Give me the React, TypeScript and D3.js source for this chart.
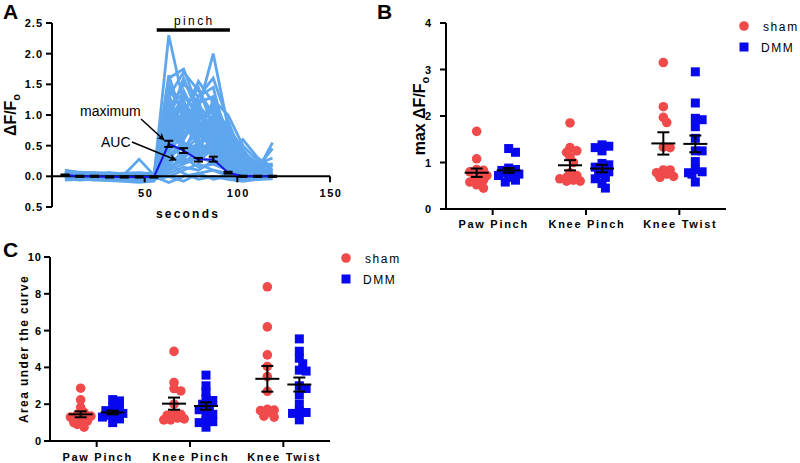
import React from "react";
import * as d3 from "d3";

const FONT = "'Liberation Sans', Arial, Helvetica, sans-serif";

// ---------- Panel A data ----------
const timePoints = [7, 15, 23, 31, 39, 47, 55, 63, 71, 79, 87, 95, 103, 111, 119];
const meanTrace = [0.02, 0.0, 0.0, -0.01, -0.01, -0.01, -0.01, 0.53, 0.42, 0.27, 0.28, 0.06, 0.0, 0.0, 0.0];
const semTrace = [0.01, 0.01, 0.01, 0.01, 0.01, 0.01, 0.01, 0.05, 0.04, 0.03, 0.04, 0.015, 0.01, 0.01, 0.01];
const pinchWindow = [56.5, 96];
const aYTicks = [-0.5, 0, 0.5, 1, 1.5, 2, 2.5];
const aYTickLabels = ["0.5", "0.0", "0.5", "1.0", "1.5", "2.0", "2.5"];
const aXTicks = [50, 100, 150];

const traces = [
  [0.08, 0.05, 0.03, 0.02, 0.0, 0.01, 0.0, 2.3, 1.2, 0.9, 0.7, 0.3, 0.1, 0.05, 0.0],
  [0.05, 0.03, 0.02, 0.0, -0.02, 0.0, -0.01, 1.6, 1.75, 1.1, 2.0, 0.8, 0.3, 0.1, 0.55],
  [0.02, 0.0, -0.02, -0.03, -0.05, -0.06, -0.05, 1.5, 1.0, 1.55, 1.2, 0.6, 0.2, 0.15, 0.45],
  [0.1, 0.06, 0.04, 0.02, 0.03, 0.28, 0.02, 1.3, 1.7, 1.4, 1.0, 0.75, 0.4, 0.2, 0.2],
  [-0.02, -0.03, -0.04, -0.05, -0.06, -0.08, -0.06, 1.1, 1.5, 1.3, 1.45, 0.5, 0.2, 0.1, 0.1],
  [0.0, 0.02, 0.0, -0.02, 0.0, 0.02, 0.0, 0.9, 1.6, 1.0, 0.8, 0.4, 0.1, 0.0, 0.05],
  [0.06, 0.04, 0.05, 0.03, 0.02, 0.04, 0.03, 1.0, 0.8, 1.3, 1.6, 0.9, 0.3, 0.05, 0.0],
  [-0.05, -0.04, -0.06, -0.07, -0.08, -0.1, -0.08, 0.8, 1.2, 0.7, 0.9, 0.6, 0.2, 0.0, -0.02],
  [0.03, 0.01, 0.0, 0.02, 0.01, 0.0, 0.01, 0.7, 1.4, 0.9, 0.5, 0.3, 0.05, 0.0, 0.0],
  [0.04, 0.02, 0.03, 0.01, 0.0, -0.02, -0.01, 1.2, 0.6, 1.1, 0.7, 0.2, 0.1, 0.0, 0.0],
  [0.01, -0.01, -0.02, 0.0, -0.03, -0.04, -0.03, 0.6, 0.9, 1.2, 1.3, 0.7, 0.25, 0.1, 0.05],
  [0.07, 0.05, 0.06, 0.04, 0.03, 0.05, 0.04, 0.5, 1.1, 0.6, 1.0, 0.45, 0.15, 0.05, 0.0],
  [-0.03, -0.05, -0.04, -0.06, -0.05, -0.07, -0.05, 0.4, 0.7, 0.8, 1.1, 0.55, 0.3, 0.15, 0.0],
  [0.0, 0.0, 0.01, 0.0, -0.01, 0.0, 0.0, 0.3, 0.5, 0.4, 0.6, 0.3, 0.1, 0.0, 0.0],
  [0.05, 0.03, 0.02, 0.0, 0.01, 0.0, -0.01, 0.2, 0.4, 0.9, 0.3, 0.1, 0.0, 0.0, 0.0],
  [0.02, 0.04, 0.03, 0.05, 0.02, 0.03, 0.02, 0.1, 0.2, 0.3, 0.5, 0.2, 0.05, 0.0, 0.0],
  [-0.01, -0.02, -0.03, -0.02, -0.04, -0.05, -0.04, 0.0, 0.1, 0.2, 0.1, 0.05, 0.0, -0.02, 0.0],
  [0.03, 0.02, 0.0, 0.01, 0.0, 0.01, 0.0, -0.1, 0.0, 0.05, 0.1, 0.0, -0.05, -0.03, 0.0],
  [0.09, 0.06, 0.05, 0.04, 0.05, 0.06, 0.03, 0.15, 0.3, 0.15, 0.2, 0.1, 0.0, 0.0, 0.0],
  [0.0, -0.03, -0.02, -0.04, -0.06, -0.05, -0.04, 0.6, 0.3, 0.5, 0.4, 0.15, 0.0, -0.02, 0.0],
  [0.04, 0.02, 0.01, 0.03, 0.02, 0.0, 0.0, 0.85, 0.5, 0.35, 0.6, 0.3, 0.1, 0.0, 0.0],
  [0.02, 0.0, 0.02, 0.01, 0.0, -0.01, 0.0, 1.05, 0.95, 0.6, 0.3, 0.2, 0.05, 0.0, 0.0],
  [-0.04, -0.02, -0.05, -0.03, -0.06, -0.04, -0.03, 0.45, 0.85, 0.65, 0.75, 0.35, 0.6, 0.3, 0.15],
  [0.06, 0.03, 0.02, 0.01, 0.03, 0.02, 0.01, 1.4, 1.1, 0.8, 0.55, 0.25, 0.1, 0.05, 0.0],
  [0.01, 0.0, -0.01, 0.0, 0.0, 0.01, 0.0, 0.25, 0.6, 1.0, 0.85, 0.45, 0.2, 0.0, 0.0],
  [0.03, 0.05, 0.04, 0.02, 0.01, 0.0, 0.0, 0.35, 0.2, 0.45, 0.95, 0.65, 0.35, 0.2, 0.1],
  [-0.02, 0.0, -0.01, -0.02, -0.03, -0.02, -0.02, 0.65, 1.25, 0.5, 0.35, 0.15, 0.05, 0.0, 0.0],
  [0.05, 0.04, 0.03, 0.02, 0.0, 0.02, 0.01, 0.75, 0.45, 0.75, 0.5, 0.25, 0.0, 0.0, 0.0],
  [0.0, 0.01, 0.0, -0.01, -0.02, -0.03, -0.02, 0.05, 0.15, 0.1, 0.25, 0.1, 0.0, 0.0, 0.0],
  [0.02, 0.0, 0.0, 0.01, 0.0, 0.0, 0.01, 0.55, 0.7, 0.85, 0.65, 0.35, 0.15, 0.0, 0.0],
  [0.07, 0.04, 0.03, 0.02, 0.01, 0.03, 0.02, 0.95, 0.75, 1.15, 0.9, 0.8, 0.45, 0.1, 0.2],
  [-0.06, -0.05, -0.04, -0.05, -0.07, -0.08, -0.06, 0.2, 0.05, -0.05, 0.0, -0.05, -0.08, -0.05, -0.04],
  [0.04, 0.05, 0.03, 0.04, 0.02, 0.03, 0.02, 1.65, 0.9, 0.7, 0.45, 0.2, 0.05, 0.0, 0.0],
  [0.01, 0.02, 0.0, 0.0, -0.01, 0.0, 0.0, 0.1, 0.35, 0.55, 0.75, 0.5, 0.25, 0.1, 0.0],
  [0.03, 0.01, 0.02, 0.0, 0.01, 0.0, 0.0, 1.15, 1.35, 0.95, 1.05, 0.7, 0.35, 0.15, 0.05],
  [-0.03, -0.04, -0.03, -0.04, -0.05, -0.06, -0.05, 0.0, -0.08, 0.05, -0.05, 0.0, -0.05, -0.03, 0.0],
  [0.05, 0.02, 0.04, 0.03, 0.04, 0.02, 0.03, 0.9, 1.3, 1.05, 0.55, 0.4, 0.2, 0.1, 0.0],
  [-0.01, 0.01, -0.02, -0.01, -0.02, -0.03, -0.03, 1.25, 0.65, 0.9, 1.15, 0.55, 0.3, 0.05, 0.05],
  [0.06, 0.07, 0.05, 0.06, 0.04, 0.05, 0.05, 0.7, 1.05, 1.45, 0.8, 0.45, 0.15, 0.05, 0.0],
  [0.0, -0.01, 0.01, 0.0, 0.0, -0.02, -0.01, 0.35, 0.55, 0.25, 0.45, 0.25, 0.1, 0.0, 0.0],
  [0.02, 0.03, 0.01, 0.02, 0.01, 0.02, 0.01, 1.0, 0.4, 0.65, 1.25, 1.0, 0.5, 0.25, 0.1],
  [-0.04, -0.06, -0.05, -0.04, -0.06, -0.07, -0.06, 0.15, 0.25, 0.35, 0.2, 0.1, -0.02, -0.05, -0.03],
  [0.03, 0.02, 0.03, 0.01, 0.02, 0.01, 0.0, 1.35, 0.55, 0.45, 0.85, 0.6, 0.25, 0.1, 0.0],
  [0.08, 0.06, 0.04, 0.05, 0.03, 0.04, 0.02, 0.5, 0.95, 0.55, 0.65, 0.25, 0.05, 0.2, 0.3],
  [0.01, 0.0, 0.0, -0.01, 0.0, -0.01, 0.0, 0.8, 0.6, 1.25, 0.4, 0.2, 0.1, 0.0, 0.0],
  [-0.02, -0.01, -0.03, -0.02, -0.01, -0.02, -0.02, 0.4, 1.0, 0.75, 1.0, 0.85, 0.3, 0.1, 0.0],
  [0.04, 0.03, 0.05, 0.03, 0.02, 0.03, 0.02, 0.6, 0.25, 0.3, 0.55, 0.15, 0.0, 0.0, 0.0],
  [0.02, 0.0, 0.01, 0.0, 0.01, 0.0, 0.01, 1.1, 0.85, 0.5, 0.7, 0.4, 0.15, 0.0, 0.0],
];

// ---------- Panels B & C data ----------
const categories = ["Paw Pinch", "Knee Pinch", "Knee Twist"];
const groupNames = ["sham", "DMM"];

const maxSham = [
  [1.67, 1.08, 0.85, 0.83, 0.8, 0.78, 0.72, 0.66, 0.62, 0.58, 0.52, 0.45],
  [1.85, 1.32, 1.25, 1.22, 1.12, 1.0, 0.78, 0.72, 0.68, 0.65, 0.62, 0.6, 0.6],
  [3.15, 2.2, 1.97, 1.86, 1.33, 1.32, 0.84, 0.84, 0.78, 0.75, 0.7, 0.68],
];
const maxDMM = [
  [1.3, 1.22, 0.88, 0.85, 0.83, 0.8, 0.78, 0.75, 0.72, 0.68, 0.62, 0.58],
  [1.38, 1.35, 1.32, 1.25, 0.98, 0.95, 0.9, 0.85, 0.8, 0.75, 0.68, 0.65, 0.55, 0.45],
  [2.95, 2.28, 1.95, 1.92, 1.77, 1.52, 1.25, 1.25, 1.02, 0.85, 0.8, 0.78, 0.75, 0.58],
];
const maxShamMean = [0.78, 0.94, 1.41];
const maxShamSem = [0.09, 0.11, 0.24];
const maxDMMMean = [0.83, 0.87, 1.4];
const maxDMMSem = [0.05, 0.08, 0.18];

const aucSham = [
  [2.87, 2.24, 1.82, 1.55, 1.45, 1.35, 1.3, 1.2, 1.1, 1.0, 0.9, 0.75],
  [4.87, 3.18, 2.85, 2.72, 2.0, 1.5, 1.45, 1.4, 1.3, 1.25, 1.2, 1.15, 1.15],
  [8.38, 6.2, 4.68, 4.05, 3.5, 2.7, 1.72, 1.68, 1.65, 1.55, 1.35, 1.3],
];
const aucDMM = [
  [2.25, 2.18, 1.85, 1.75, 1.65, 1.55, 1.5, 1.45, 1.4, 1.3, 1.2, 1.0],
  [3.58, 3.0, 2.65, 2.3, 2.2, 2.0, 1.85, 1.7, 1.5, 1.45, 1.1, 1.05, 1.0, 0.75],
  [5.55, 4.88, 4.5, 4.2, 3.85, 3.8, 3.0, 2.85, 2.5, 2.0, 1.6, 1.55, 1.5, 1.15],
];
const aucShamMean = [1.45, 2.03, 3.38];
const aucShamSem = [0.16, 0.33, 0.7];
const aucDMMMean = [1.55, 1.9, 3.07];
const aucDMMSem = [0.1, 0.2, 0.38];

const maxYTicks = [0, 1, 2, 3, 4];
const aucYTicks = [0, 2, 4, 6, 8, 10];

// ---------- styles ----------
const RED = "#f04a4a";
const BLUE = "#0808ee";
const LIGHTBLUE = "#5ea6ee";
const MEANBLUE = "#1414e0";

function swarm(values: number[], y: (v: number) => number, cx: number, step = 3.4, sep = 5.6) {
  const sorted = [...values].sort((a, b) => b - a);
  const placed: { x: number; y: number }[] = [];
  const maxK = 6;
  for (const v of sorted) {
    const py = y(v);
    let chosen = cx;
    for (let k = 0; k <= maxK; k++) {
      const off = k === 0 ? 0 : (k % 2 === 1 ? 1 : -1) * Math.ceil(k / 2) * step;
      const px = cx + off;
      const ok = placed.every((p) => Math.hypot(p.x - px, p.y - py) >= sep);
      if (ok) { chosen = px; break; }
      if (k === maxK) chosen = cx + (placed.length % 2 ? 1 : -1) * step;
    }
    placed.push({ x: chosen, y: py });
  }
  return placed;
}

function PanelA() {
  const x = d3.scaleLinear().domain([0, 150]).range([52, 330]);
  const y = d3.scaleLinear().domain([-0.5, 2.5]).range([207, 23]);
  const line = d3.line<number>().x((_, i) => x(timePoints[i])).y((d) => y(d));
  const y0 = y(0);
  return (
    <g fontFamily={FONT}>
      <text x={3} y={19} fontSize={21} fontWeight="bold">A</text>
      {traces.map((t, i) => (
        <path key={i} d={line(t) || ""} fill="none" stroke={LIGHTBLUE} strokeWidth={2.8} strokeLinejoin="miter" />
      ))}
      <line x1={x(0)} x2={x(0)} y1={y(2.5)} y2={y(-0.5)} stroke="#000" strokeWidth={2} />
      <line x1={x(0)} x2={x(150)} y1={y0} y2={y0} stroke="#000" strokeWidth={2} />
      {aYTicks.map((t, i) => (
        <g key={t}>
          <line x1={x(0) - 6} x2={x(0)} y1={y(t)} y2={y(t)} stroke="#000" strokeWidth={2} />
          <text x={43} y={y(t) + 4} fontSize={11} fontWeight="bold" textAnchor="end" letterSpacing={1}>{aYTickLabels[i]}</text>
        </g>
      ))}
      {aXTicks.map((t) => (
        <g key={t}>
          <line x1={x(t)} x2={x(t)} y1={y0} y2={y0 + 6} stroke="#000" strokeWidth={2} />
          <text x={x(t) + 1} y={y0 + 21} fontSize={11} fontWeight="bold" textAnchor="middle" letterSpacing={1.6}>{t}</text>
        </g>
      ))}
      <text x={x(0) + (x(150) - x(0)) / 2 - 3} y={218} fontSize={12} fontWeight="bold" textAnchor="middle" letterSpacing={2.2}>seconds</text>
      <text transform={`translate(16,${(y(2.5) + y(-0.5)) / 2}) rotate(-90)`} fontSize={16} fontWeight="bold" textAnchor="middle">
        ΔF/F<tspan fontSize={11} dy={4}>o</tspan>
      </text>
      <line x1={x(pinchWindow[0])} x2={x(pinchWindow[1])} y1={30} y2={30} stroke="#000" strokeWidth={3.5} />
      <text x={(x(pinchWindow[0]) + x(pinchWindow[1])) / 2 + 1} y={25} fontSize={12} textAnchor="middle" letterSpacing={2.4}>pinch</text>
      <path d={line(meanTrace) || ""} fill="none" stroke={MEANBLUE} strokeWidth={2} />
      {meanTrace.map((m, i) => {
        const cx = x(timePoints[i]);
        const s = semTrace[i];
        return (
          <g key={i} stroke="#000" strokeWidth={2}>
            <line x1={cx} x2={cx} y1={y(m + s)} y2={y(m - s)} />
            <line x1={cx - 4.5} x2={cx + 4.5} y1={y(m + s)} y2={y(m + s)} />
            <line x1={cx - 4.5} x2={cx + 4.5} y1={y(m - s)} y2={y(m - s)} />
          </g>
        );
      })}
      <defs>
        <marker id="arrowHead" viewBox="0 0 10 10" refX={9} refY={5} markerWidth={5} markerHeight={5} orient="auto">
          <path d="M0,0 L10,5 L0,10 L3,5 Z" fill="#000" />
        </marker>
      </defs>
      <text x={80} y={116} fontSize={14}>maximum</text>
      <text x={101} y={147} fontSize={14}>AUC</text>
      <line x1={141} y1={119} x2={164} y2={140} stroke="#000" strokeWidth={1.5} markerEnd="url(#arrowHead)" />
      <line x1={132} y1={142} x2={176} y2={160} stroke="#000" strokeWidth={1.5} markerEnd="url(#arrowHead)" />
    </g>
  );
}

type ScatterProps = {
  label: string;
  labelX: number;
  labelY: number;
  x0: number;
  x1: number;
  yTop: number;
  yBottom: number;
  yMax: number;
  yTicks: number[];
  tickLabelRight: number;
  sham: number[][];
  dmm: number[][];
  shamMean: number[];
  shamSem: number[];
  dmmMean: number[];
  dmmSem: number[];
  yLabel: React.ReactNode;
  yLabelX: number;
  catLabelY: number;
  legendX: number;
  legendY: number;
};

function ScatterPanel(p: ScatterProps) {
  const x = d3.scaleBand<string>().domain(categories).range([p.x0, p.x1]);
  const y = d3.scaleLinear().domain([0, p.yMax]).range([p.yBottom, p.yTop]);
  const off = 16;
  const meanHalf = 12;
  const capHalf = 6;
  const sem = (cx: number, m: number, s: number, key: string) => (
    <g key={key} stroke="#000" strokeWidth={2}>
      <line x1={cx - meanHalf} x2={cx + meanHalf} y1={y(m)} y2={y(m)} />
      <line x1={cx} x2={cx} y1={y(m + s)} y2={y(m - s)} />
      <line x1={cx - capHalf} x2={cx + capHalf} y1={y(m + s)} y2={y(m + s)} />
      <line x1={cx - capHalf} x2={cx + capHalf} y1={y(m - s)} y2={y(m - s)} />
    </g>
  );
  return (
    <g fontFamily={FONT}>
      <text x={p.labelX} y={p.labelY} fontSize={21} fontWeight="bold">{p.label}</text>
      <line x1={p.x0} x2={p.x0} y1={p.yTop} y2={p.yBottom} stroke="#000" strokeWidth={2} />
      <line x1={p.x0} x2={p.x1} y1={p.yBottom} y2={p.yBottom} stroke="#000" strokeWidth={2} />
      {p.yTicks.map((t) => (
        <g key={t}>
          <line x1={p.x0 - 6} x2={p.x0} y1={y(t)} y2={y(t)} stroke="#000" strokeWidth={2} />
          <text x={p.tickLabelRight} y={y(t) + 4} fontSize={11} fontWeight="bold" textAnchor="end" letterSpacing={1}>{t}</text>
        </g>
      ))}
      {categories.map((c) => {
        const cx = (x(c) as number) + x.bandwidth() / 2;
        return (
          <g key={c}>
            <line x1={cx} x2={cx} y1={p.yBottom} y2={p.yBottom + 6} stroke="#000" strokeWidth={2} />
            <text x={cx + 1} y={p.catLabelY} fontSize={11} fontWeight="bold" textAnchor="middle" letterSpacing={1.7}>{c}</text>
          </g>
        );
      })}
      {categories.map((c, i) => {
        const cx = (x(c) as number) + x.bandwidth() / 2;
        const sPts = swarm(p.sham[i], (v) => y(v), cx - off);
        const dPts = swarm(p.dmm[i], (v) => y(v), cx + off);
        return (
          <g key={c}>
            {sPts.map((pt, j) => (
              <circle key={"s" + j} cx={pt.x} cy={pt.y} r={4.8} fill={RED} />
            ))}
            {dPts.map((pt, j) => (
              <rect key={"d" + j} x={pt.x - 4.5} y={pt.y - 4.5} width={9} height={9} fill={BLUE} />
            ))}
            {sem(cx - off, p.shamMean[i], p.shamSem[i], "ms")}
            {sem(cx + off, p.dmmMean[i], p.dmmSem[i], "md")}
          </g>
        );
      })}
      <text transform={`translate(${p.yLabelX},${(p.yTop + p.yBottom) / 2}) rotate(-90)`} textAnchor="middle" fontWeight="bold">
        {p.yLabel}
      </text>
      <circle cx={p.legendX} cy={p.legendY} r={4.8} fill={RED} />
      <rect x={p.legendX - 4.5} y={p.legendY + 21 - 4.5} width={9} height={9} fill={BLUE} />
      <text x={p.legendX + 19} y={p.legendY + 4.5} fontSize={12} letterSpacing={1.6}>{groupNames[0]}</text>
      <text x={p.legendX + 17} y={p.legendY + 25.5} fontSize={12} letterSpacing={1.6}>{groupNames[1]}</text>
    </g>
  );
}

export default function App() {
  return (
    <div style={{ position: "absolute", left: 0, top: 0, width: 800, height: 463, background: "#fff" }}>
      <svg width={800} height={463} viewBox="0 0 800 463" style={{ display: "block" }}>
        <rect width={800} height={463} fill="#fff" />
        <PanelA />
        <ScatterPanel
          label="B" labelX={377} labelY={19}
          x0={446} x1={726} yTop={23} yBottom={209} yMax={4} yTicks={maxYTicks} tickLabelRight={432}
          sham={maxSham} dmm={maxDMM}
          shamMean={maxShamMean} shamSem={maxShamSem} dmmMean={maxDMMMean} dmmSem={maxDMMSem}
          yLabel={<tspan fontSize={16}>max ΔF/F<tspan fontSize={11} dy={4}>o</tspan></tspan>}
          yLabelX={425} catLabelY={228} legendX={744} legendY={26}
        />
        <ScatterPanel
          label="C" labelX={3} labelY={257}
          x0={50} x1={330} yTop={257} yBottom={441} yMax={10} yTicks={aucYTicks} tickLabelRight={42}
          sham={aucSham} dmm={aucDMM}
          shamMean={aucShamMean} shamSem={aucShamSem} dmmMean={aucDMMMean} dmmSem={aucDMMSem}
          yLabel={<tspan fontSize={12} letterSpacing={1.4}>Area under the curve</tspan>}
          yLabelX={28} catLabelY={461} legendX={346} legendY={258}
        />
      </svg>
    </div>
  );
}
